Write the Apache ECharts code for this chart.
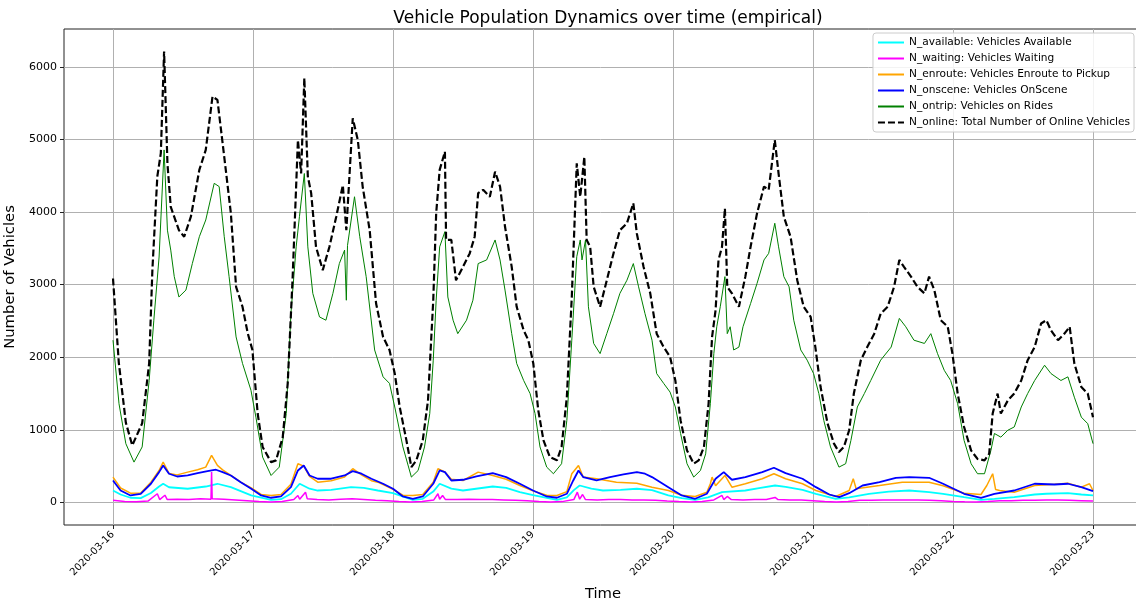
<!DOCTYPE html>
<html>
<head>
<meta charset="utf-8">
<script src="https://cdn.jsdelivr.net/npm/echarts@6/dist/echarts.min.js"></script>
<style>
html,body{margin:0;padding:0;background:#fff;}
#chart{width:1136px;height:606px;}
</style>
</head>
<body>
<div id="chart"></div>
<script>
// ---- tick labels / categories ----
const dayTicks = [0, 24, 48, 72, 96, 120, 144, 168];          // hours from 2020-03-16 00:00
const dayLabels = ['2020-03-16','2020-03-17','2020-03-18','2020-03-19','2020-03-20','2020-03-21','2020-03-22','2020-03-23'];
const yTicks = [0, 1000, 2000, 3000, 4000, 5000, 6000];

const seriesNames = [
  'N_available: Vehicles Available',
  'N_waiting: Vehicles Waiting',
  'N_enroute: Vehicles Enroute to Pickup',
  'N_onscene: Vehicles OnScene',
  'N_ontrip: Vehicles on Rides',
  'N_online: Total Number of Online Vehicles'
];

// ---- N_online (hours, values) ----
const tOnline = [0,1.0,2.2,3.3,5.0,6.2,6.75,7.6,8.2,8.76,9.33,9.9,11.3,12.2,13.35,14.8,15.9,17.06,17.9,19.07,20.2,21.1,22.2,23.1,23.9,24.8,25.65,27.1,27.95,29.1,29.95,30.8,31.7,32.25,32.8,33.4,33.97,34.8,35.96,37.1,38.27,39.4,40.0,41.1,41.97,42.8,44.0,45.1,46.3,47.4,48.3,49.15,50.3,51.15,52.0,53.1,54.0,54.9,55.4,56.0,56.9,57.1,58.0,58.8,60.0,61.15,62.0,62.6,63.45,64.6,65.5,66.35,67.2,68.35,69.2,70.4,71.2,72.05,72.9,73.8,74.9,76.1,76.9,77.8,78.65,79.5,80.1,80.8,81.2,81.8,82.4,83.5,84.65,85.8,86.9,88.1,89.2,89.8,90.95,92.1,93.2,94.4,95.5,96.4,97.3,98.4,99.55,100.4,101.3,102.1,102.7,103.3,103.8,104.4,104.9,105.3,106.1,107.3,108.4,109.3,110.4,111.6,112.4,113.45,114.1,115.0,116.15,117.3,118.4,119.6,120.4,121.3,122.5,123.6,124.45,125.3,126.2,127.0,128.2,129.3,130.5,131.6,132.8,133.9,134.8,135.6,136.8,137.9,139.1,139.9,140.8,141.9,143.1,143.9,144.8,145.9,147.1,148.2,149.4,150.2,150.8,151.65,152.2,153.4,154.5,155.7,156.8,158.0,159.1,160.0,160.8,162.0,163.1,164.0,164.8,166.0,167.1,168.0];
const vOnline = [3085,1920,1100,786,1090,1917,3200,4490,4810,6210,4670,4070,3750,3660,3935,4580,4855,5590,5545,4760,3985,2970,2695,2330,2100,1225,765,556,580,900,1640,3110,4990,4530,5845,4490,4260,3520,3200,3520,3935,4370,3750,5290,4990,4350,3750,2740,2280,2100,1775,1315,855,487,580,855,1405,2785,3980,4580,4830,3615,3615,3060,3245,3430,3660,4260,4305,4210,4555,4350,3800,3245,2695,2370,2235,1915,1270,855,625,580,765,1450,2830,4670,4210,4760,3615,3520,2970,2695,3060,3430,3750,3845,4120,3705,3245,2880,2325,2140,2005,1680,1130,717,534,580,765,1360,2280,2650,3340,3520,4050,2970,2880,2695,3110,3520,3980,4350,4305,4990,4530,3935,3660,3060,2695,2555,2140,1590,1085,810,694,765,995,1500,1960,2140,2325,2600,2695,2970,3340,3245,3110,2970,2880,3110,2925,2510,2420,2050,1500,1040,717,600,580,670,1225,1500,1225,1405,1500,1680,1960,2140,2465,2510,2370,2235,2325,2420,1915,1590,1500,1175];

// ---- N_ontrip ----
const tOntrip = [0,1.03,2.2,3.6,5.0,6.2,7.0,7.9,8.76,9.33,9.9,10.5,11.3,12.5,13.6,14.8,15.9,17.35,18.2,19.07,19.9,21.1,22.2,23.65,24.5,25.65,27.1,28.5,29.7,30.5,31.4,31.96,32.8,33.4,34.25,35.4,36.5,37.7,38.8,39.7,40.0,40.2,41.4,42.3,43.4,44.85,46.3,47.4,48.3,49.7,51.15,52.3,53.4,54.3,54.9,55.4,56.0,56.9,57.4,58.3,59.1,60.6,61.7,62.6,64.05,65.5,66.35,67.2,68.35,69.2,70.4,71.5,72.35,73.2,74.35,75.5,76.9,77.8,78.65,79.5,80.1,80.4,81.0,81.5,82.4,83.5,84.65,85.8,86.9,88.1,89.2,90.1,91.2,92.4,93.2,94.4,95.5,96.4,97.3,98.4,99.55,100.7,101.6,102.4,103.0,103.5,104.1,104.9,105.3,105.8,106.4,107.3,108.0,109.3,110.4,111.6,112.4,113.45,114.1,115.0,115.9,116.7,117.9,119.0,120.1,121.0,121.85,123.0,124.45,125.6,126.5,127.6,128.8,129.9,131.6,133.4,134.8,135.9,137.3,139.1,140.2,141.35,142.5,143.6,144.8,145.9,147.1,148.2,149.4,150.5,151.1,152.2,153.4,154.5,155.7,156.8,158.0,159.7,160.8,162.5,163.7,164.8,166.0,167.1,168.0];
const vOntrip = [2235,1360,810,556,765,1680,2510,3380,4855,3750,3475,3110,2830,2925,3290,3660,3890,4395,4350,3660,3110,2280,1915,1545,1175,625,372,487,1225,2600,3520,3935,4530,3520,2880,2555,2510,2880,3290,3475,2785,3540,4210,3660,3110,2100,1730,1640,1315,765,350,440,765,1225,1960,2785,3520,3730,2830,2510,2325,2510,2785,3290,3340,3615,3340,2925,2325,1915,1680,1500,1225,765,487,396,534,1130,2235,3385,3615,3340,3615,2695,2190,2050,2325,2600,2880,3060,3290,2970,2600,2235,1775,1640,1520,1315,950,534,350,440,670,1360,2050,2420,2695,3110,2325,2420,2100,2140,2420,2740,3015,3340,3430,3845,3520,3110,2970,2510,2100,1960,1775,1500,1130,765,487,534,855,1315,1500,1680,1960,2140,2535,2420,2235,2190,2325,2050,1820,1680,1360,855,534,396,396,717,950,900,995,1040,1315,1500,1680,1890,1775,1680,1730,1450,1175,1085,810];

// ---- N_onscene ----
const tOnscene = [0,1.3,3,4.75,6.5,7.9,8.6,9.6,11,12.8,14.5,16.2,17.65,18.8,20.2,21.9,23.7,25.4,27.1,28.8,30.5,31.7,32.7,33.7,35.1,37.4,39.7,41.1,42.6,44.3,46.3,48,49.7,51.4,53.1,54.9,56,56.9,58,60,62.3,65.1,67.4,69.75,72,74.35,76.1,77.8,78.9,79.8,80.6,82.9,85.2,87.5,89.8,91.2,92.4,95.2,97.5,99.8,101.8,103.3,104.7,106.1,108.4,111.3,113.3,115.3,118.2,120.5,122.8,124.5,126.2,128.5,131.4,134.2,136.5,139.9,142.3,145.9,148.8,151.1,154.5,158,161.4,163.7,166,168];
const vOnscene = [303,165,97,120,258,418,510,396,358,372,404,432,451,418,372,280,189,97,65,83,211,441,510,372,327,327,372,432,396,327,258,189,83,51,83,258,441,418,303,313,358,404,350,258,165,83,65,120,303,441,350,303,350,386,418,396,350,211,97,51,120,327,418,313,350,418,478,404,327,211,110,73,128,234,280,340,350,340,258,120,65,120,165,258,248,258,211,156];

// ---- N_enroute ----
const tEnroute = [0,1.3,3,4.75,6.5,7.9,8.6,9.6,11,12.8,14.5,15.9,16.9,17.9,18.8,20.2,21.9,23.7,25.4,27.1,28.8,30.5,31.7,32.7,33.7,35.1,37.4,39.7,41.1,42.6,44.3,45.4,48,49.7,51.4,53.1,54.9,55.7,56.9,58,60,62.6,65.1,67.4,69.75,72,74.35,76.1,77.8,78.65,79.8,80.6,82.9,86.3,89.8,92.4,95.2,97.5,99.8,101.8,102.4,102.7,103.3,104.9,106.1,108.4,111.3,113.3,115.3,118.2,120.5,123.9,126.2,126.9,127.4,131.4,135.3,139.9,142.3,145.9,148.8,149.8,150.8,151.3,152,154.5,158,161.4,163.7,166,167.4,168];
const vEnroute = [350,200,128,130,280,440,556,400,380,418,450,487,648,510,450,372,280,200,110,97,110,250,534,500,360,280,300,350,465,380,300,280,180,100,97,110,280,465,420,320,303,418,372,320,234,160,100,97,150,396,510,350,327,280,266,211,165,100,83,140,258,350,230,372,211,258,327,396,327,258,165,83,165,327,189,234,280,280,230,128,110,234,396,180,165,142,234,250,266,211,258,165];

// ---- N_available ----
const tAvailable = [0,1.3,3,4.75,6.5,7.9,8.6,9.6,12.8,15.9,17.9,20.2,23.7,27.1,28.8,30.5,32,33.7,35.1,37.4,40.8,43,45.4,48,51.4,53.1,54.9,56,58,60,65.1,67.4,69.75,72,76.1,77.8,79,80,82,84,87,89.8,92.4,95.2,97.5,99.8,102,104.4,108.4,111,113.5,115.3,118.2,120.5,123.9,126.2,129.6,133,136.5,139.9,142.3,145.9,148.8,151.1,154.5,158,160,163.7,166,168];
const vAvailable = [165,110,65,60,130,220,258,210,189,220,258,211,97,37,45,120,258,190,165,175,211,200,165,128,37,50,150,258,190,165,220,200,142,100,37,70,170,234,190,165,175,189,170,97,60,37,70,142,165,200,234,215,175,120,51,70,120,150,165,142,120,73,37,50,73,110,120,128,110,97];

// ---- N_waiting ----
const tWaiting = [0,2,4,6,7.6,8,8.9,9.3,11,13,15,16.8,16.9,17,19,21,23,25,27,29,31,31.7,32,33,33.3,35,37,39,41,43,45,47,49,51,53,55,55.7,56,56.5,57,59,61,63,65,67,69,71,73,75,77,79,79.6,80,80.5,81,83,85,87,89,91,93,95,97,99,101,103,104.4,104.7,105.3,106,108,110,112,113.5,114,116,118,120,122,124,126,128,130,132,134,136,138,140,142,144,146,148,150,152,154,156,158,160,162,164,166,168];
const vWaiting = [30,15,10,20,120,40,100,40,45,40,50,45,420,50,45,35,25,12,8,15,40,97,45,142,50,40,35,45,50,40,30,25,15,8,12,35,120,45,97,40,40,45,40,40,35,30,25,15,8,12,40,142,45,110,40,35,40,40,35,35,30,20,12,8,15,35,97,40,83,40,35,40,40,70,40,35,35,25,15,8,12,30,30,35,35,35,35,30,25,15,10,8,15,25,25,30,30,35,35,30,25,20];

function pairs(t, v) { return t.map((h, i) => [h, v[i]]); }

const chart = echarts.init(document.getElementById('chart'), null, {renderer: 'canvas'});
const FONT = 'DejaVu Sans';

function lineSeries(name, t, v, color, width, type) {
  return {
    name: name,
    type: 'line',
    data: pairs(t, v),
    symbol: 'none',
    smooth: false,
    lineStyle: {color: color, width: width, type: type || 'solid'},
    itemStyle: {color: color},
    emphasis: {disabled: true},
    silent: true
  };
}

chart.setOption({
  animation: false,
  backgroundColor: '#ffffff',
  title: {
    text: 'Vehicle Population Dynamics over time (empirical)',
    left: 603,
    top: 5,
    textAlign: 'center',
    textStyle: {fontFamily: FONT, fontSize: 17, fontWeight: 'normal', color: '#000'}
  },
  legend: {
    data: seriesNames,
    orient: 'vertical',
    right: 2,
    top: 33,
    itemWidth: 26,
    itemHeight: 11,
    itemGap: 5,
    padding: [4, 4, 4, 4],
    backgroundColor: 'rgba(255,255,255,0.85)',
    borderColor: '#cccccc',
    borderWidth: 1,
    borderRadius: 3,
    itemStyle: {opacity: 0, borderWidth: 0},
    textStyle: {fontFamily: FONT, fontSize: 10.6, color: '#000'}
  },
  grid: {
    left: 64,
    top: 29,
    width: 1078,
    height: 496,
    show: true,
    borderColor: '#222',
    borderWidth: 1,
    containLabel: false,
    outerBoundsMode: 'none'
  },
  xAxis: {
    type: 'value',
    min: -8.4,
    max: 176.4,
    name: 'Time',
    nameLocation: 'middle',
    nameGap: 62,
    nameTextStyle: {fontFamily: FONT, fontSize: 14.8, color: '#000'},
    axisLine: {show: false, onZero: false},
    axisTick: {show: true, customValues: dayTicks, length: 4, lineStyle: {color: '#222'}},
    axisLabel: {
      customValues: dayTicks,
      rotate: 45,
      margin: 8,
      fontFamily: FONT,
      fontSize: 10,
      color: '#000',
      formatter: function (v) { const i = dayTicks.indexOf(Math.round(v)); return i >= 0 ? dayLabels[i] : ''; }
    },
    splitLine: {show: true, lineStyle: {color: '#b0b0b0', width: 1}}
  },
  yAxis: {
    type: 'value',
    min: -310,
    max: 6520,
    name: 'Number of Vehicles',
    nameLocation: 'middle',
    nameGap: 32,
    nameTextStyle: {fontFamily: FONT, fontSize: 14.8, color: '#000'},
    axisLine: {show: false, onZero: false},
    axisTick: {show: true, customValues: yTicks, length: 4, lineStyle: {color: '#222'}},
    axisLabel: {
      customValues: yTicks,
      margin: 7,
      fontFamily: FONT,
      fontSize: 11,
      color: '#000',
      formatter: function (v) { return String(Math.round(v)); }
    },
    splitLine: {show: true, lineStyle: {color: '#b0b0b0', width: 1}}
  },
  series: [
    lineSeries(seriesNames[0], tAvailable, vAvailable, '#00ffff', 1.8),
    lineSeries(seriesNames[1], tWaiting, vWaiting, '#ff00ff', 1.5),
    lineSeries(seriesNames[2], tEnroute, vEnroute, '#ffa500', 1.5),
    lineSeries(seriesNames[3], tOnscene, vOnscene, '#0000ff', 1.8),
    lineSeries(seriesNames[4], tOntrip, vOntrip, '#008000', 1),
    lineSeries(seriesNames[5], tOnline, vOnline, '#000000', 2.2, [7, 3])
  ]
});
</script>
</body>
</html>
